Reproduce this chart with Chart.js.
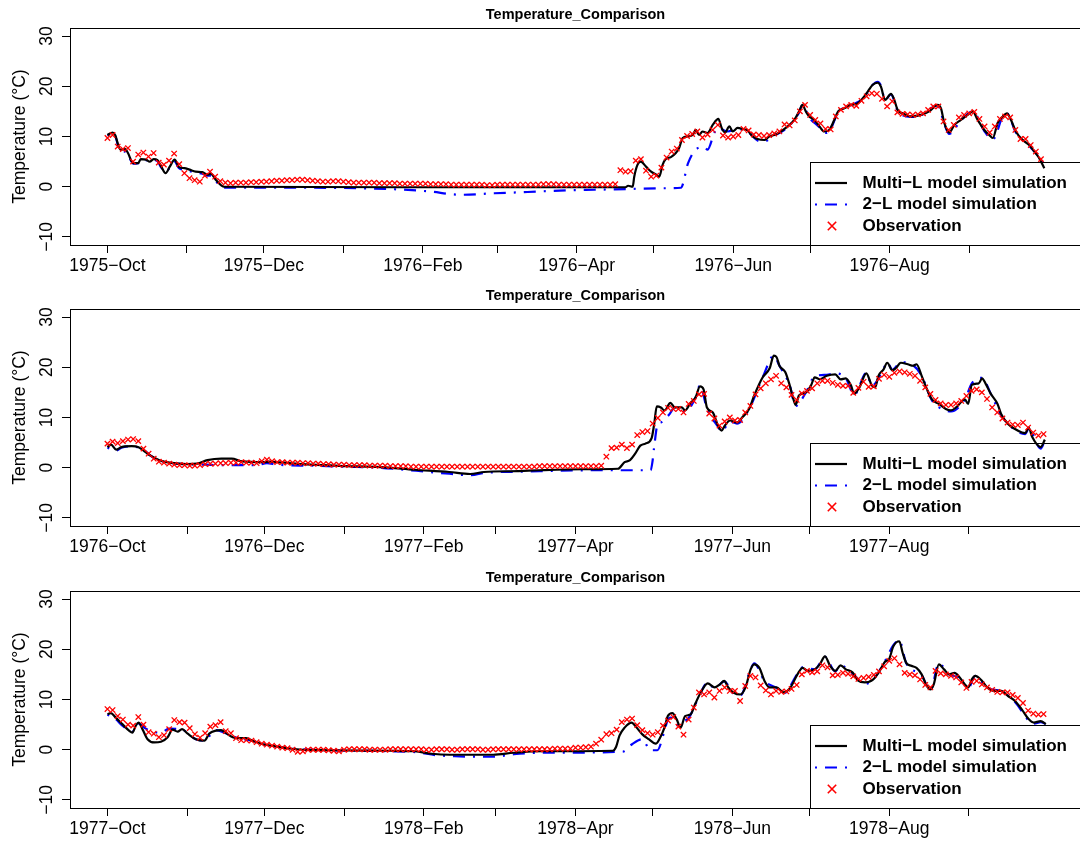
<!DOCTYPE html>
<html>
<head>
<meta charset="utf-8">
<script src="https://cdn.jsdelivr.net/npm/chart.js@4.4.0/dist/chart.umd.min.js"></script>
<style>
  html, body { margin: 0; padding: 0; background: #fff; overflow: hidden; }
  #page { position: relative; width: 1080px; height: 841px; overflow: hidden; background: #fff; }
  .panel { position: absolute; left: 0; width: 1100px; height: 281px; }
</style>
</head>
<body>
<div id="page">
  <div class="panel" style="top:0px"><canvas id="p1" width="1100" height="281"></canvas></div>
  <div class="panel" style="top:281px"><canvas id="p2" width="1100" height="281"></canvas></div>
  <div class="panel" style="top:563px"><canvas id="p3" width="1100" height="281"></canvas></div>
</div>
<script>
// ---- data -------------------------------------------------------------
// days counted from 1 October of each water year
const monthStartsLeap = [0, 31, 61, 92, 123, 152, 183, 213, 244, 274, 305, 336];
const monthStarts = [0, 31, 61, 92, 123, 151, 182, 212, 243, 273, 304, 335];

const tickLabels1 = ['1975−Oct', '', '1975−Dec', '', '1976−Feb', '', '1976−Apr', '', '1976−Jun', '', '1976−Aug', ''];
const tickLabels2 = ['1976−Oct', '', '1976−Dec', '', '1977−Feb', '', '1977−Apr', '', '1977−Jun', '', '1977−Aug', ''];
const tickLabels3 = ['1977−Oct', '', '1977−Dec', '', '1978−Feb', '', '1978−Apr', '', '1978−Jun', '', '1978−Aug', ''];

const yTicks = [-10, 0, 10, 20, 30];
const yTickLabels = ['−10', '0', '10', '20', '30'];
const yLimits = [-10, 30];

const daySpan1 = [0, 365];
const daySpan2 = [0, 364];
const daySpan3 = [0, 364];

const seriesNames = ['Multi−L model simulation', '2−L model simulation', 'Observation'];

// observations, one value every 2 days
const obsStep = 2;
const obs1 = [
  9.7, 10.3, 8.0, 7.5, 7.7, 5.0, 6.4, 6.8, 6.0, 6.7,
  4.8, 4.4, 5.2, 6.6, 4.5, 2.7, 1.7, 1.3, 1.0, 2.2,
  3.0, 2.0, 1.1, 0.8, 0.7, 0.8, 0.8, 0.8, 0.9, 0.9,
  1.0, 1.0, 1.1, 1.2, 1.2, 1.3, 1.3, 1.4, 1.4, 1.3,
  1.2, 1.1, 1.0, 1.0, 1.1, 1.1, 1.0, 0.9, 0.8, 0.8,
  0.8, 0.8, 0.8, 0.7, 0.7, 0.7, 0.7, 0.6, 0.6, 0.6,
  0.6, 0.6, 0.6, 0.5, 0.5, 0.5, 0.5, 0.4, 0.4, 0.4,
  0.4, 0.4, 0.4, 0.4, 0.3, 0.3, 0.4, 0.4, 0.4, 0.4,
  0.4, 0.4, 0.4, 0.4, 0.4, 0.5, 0.5, 0.5, 0.4, 0.4,
  0.4, 0.4, 0.4, 0.4, 0.4, 0.4, 0.4, 0.4, 0.4, 0.5,
  3.3, 3.0, 3.1, 5.2, 5.5, 3.2, 2.0, 2.2, 3.8, 5.8,
  7.0, 7.6, 9.3, 10.1, 10.5, 11.0, 9.8, 10.4, 11.3, 12.3,
  10.2, 9.8, 10.0, 10.3, 11.5, 11.2, 10.4, 10.3, 10.1, 10.3,
  10.6, 11.0, 12.4, 12.2, 13.2, 15.0, 16.3, 14.3, 13.3, 12.6,
  11.5, 11.4, 14.0, 15.3, 16.0, 16.3, 16.1, 17.1, 18.0, 18.6,
  18.5, 17.5, 16.0, 17.0, 14.8, 14.5, 14.4, 14.3, 14.4, 14.6,
  15.3, 16.0, 16.0, 13.0, 11.3, 12.3, 13.8, 14.3, 14.6, 14.9,
  13.5, 12.0, 10.8, 12.0, 13.5, 14.0, 13.8, 11.3, 9.5, 9.5,
  8.3, 7.0, 5.5
];
const obs2 = [
  4.8, 5.2, 4.9, 5.3, 5.6, 5.7, 5.3, 3.8, 2.8, 1.8,
  1.2, 1.0, 0.8, 0.6, 0.5, 0.5, 0.4, 0.4, 0.5, 0.7,
  0.8, 0.8, 0.9, 0.9, 1.0, 1.0, 1.1, 1.0, 1.0, 0.9,
  1.3, 1.6, 1.3, 1.1, 1.1, 1.0, 1.0, 1.0, 0.9, 0.9,
  0.8, 0.8, 0.7, 0.7, 0.6, 0.6, 0.6, 0.5, 0.5, 0.5,
  0.5, 0.4, 0.4, 0.4, 0.4, 0.3, 0.3, 0.3, 0.3, 0.2,
  0.2, 0.2, 0.2, 0.2, 0.2, 0.2, 0.2, 0.2, 0.2, 0.2,
  0.2, 0.2, 0.2, 0.2, 0.2, 0.2, 0.2, 0.2, 0.2, 0.2,
  0.2, 0.2, 0.2, 0.2, 0.3, 0.3, 0.3, 0.3, 0.3, 0.3,
  0.3, 0.3, 0.3, 0.3, 0.3, 0.3, 0.4, 2.2, 3.9, 4.0,
  4.6, 3.9, 4.6, 6.5, 7.1, 7.3, 8.8, 9.9, 11.0, 11.9,
  11.7, 11.7, 11.0, 12.7, 13.3, 14.6, 14.7, 10.8, 9.8, 8.4,
  9.2, 10.0, 9.4, 9.5, 11.0, 12.3, 14.6, 15.8, 16.8, 17.6,
  18.3, 16.8, 16.0, 14.5, 13.5, 14.8, 15.3, 15.8, 16.8, 17.3,
  17.3, 16.9, 16.5, 16.3, 16.3, 14.9, 15.9, 17.1, 16.1, 16.2,
  17.7, 18.5, 18.1, 18.9, 19.2, 19.0, 18.7, 18.3, 17.3, 16.0,
  14.7, 13.5, 12.8, 12.5, 12.5, 12.8, 13.3, 14.3, 15.3, 15.6,
  15.0, 13.7, 12.0, 11.0, 9.8, 9.0, 8.6, 8.5, 9.0, 8.0,
  7.0, 6.4, 6.7
];
const obs3 = [
  8.1, 7.9, 6.7, 6.0, 5.0, 4.8, 6.5, 5.0, 3.5, 3.2,
  2.5, 2.9, 4.1, 5.9, 5.5, 5.4, 4.3, 3.1, 2.4, 3.3,
  4.6, 4.9, 5.5, 3.7, 3.3, 2.3, 1.9, 1.9, 1.8, 1.5,
  1.2, 1.0, 0.8, 0.6, 0.4, 0.3, 0.0, -0.4, -0.3, 0.0,
  0.0, 0.0, 0.0, -0.1, -0.2, -0.3, 0.0, 0.1, 0.1, 0.1,
  0.1, 0.0, 0.0, 0.0, 0.0, 0.1, 0.1, 0.1, 0.1, 0.1,
  0.1, 0.1, 0.0, 0.0, 0.1, 0.1, 0.1, 0.0, 0.0, 0.1,
  0.1, 0.1, 0.1, 0.0, 0.0, 0.1, 0.1, 0.1, 0.1, 0.1,
  0.1, 0.1, 0.1, 0.1, 0.1, 0.1, 0.1, 0.2, 0.2, 0.2,
  0.2, 0.4, 0.4, 0.5, 0.6, 1.2, 2.0, 3.1, 3.3, 4.0,
  5.5, 6.0, 6.2, 4.9, 3.9, 3.3, 3.0, 3.5, 4.8, 5.8,
  6.5, 4.6, 3.0, 6.0, 8.4, 11.4, 11.0, 11.4, 10.4, 11.7,
  12.4, 11.7, 11.7, 9.7, 12.7, 14.7, 14.4, 12.8, 11.8, 11.0,
  11.7, 11.5, 11.6, 12.1, 12.9, 15.0, 15.7, 15.4, 15.6, 16.8,
  16.4, 14.8, 14.9, 15.3, 15.1, 14.6, 14.1, 14.3, 14.5, 14.9,
  15.6, 16.6, 17.7, 18.2, 17.0, 15.3, 15.0, 14.8, 14.0, 12.9,
  12.4, 15.7, 15.2, 15.0, 14.7, 14.4, 13.4, 12.3, 13.5, 13.7,
  13.0, 12.4, 11.9, 11.5, 11.4, 11.4, 10.9, 10.3, 9.3, 7.8,
  7.2, 7.0, 7.1
];

// model runs as [day, temperature] pairs
const multiL1 = [[0,10.3],[2,10.8],[3,10.3],[5,7.4],[7,7.5],[8,6.7],[10,4.7],[12,4.7],[13,5.5],[15,5.4],[16.5,5.0],[18,5.5],[19.5,5.3],[21,4.0],[22.7,2.7],[24.3,4.0],[26.2,5.4],[27.9,3.9],[30,3.7],[32,3.4],[34.4,3.0],[37,2.9],[39,2.4],[40.3,2.6],[42.2,1.4],[45.5,0.0],[120,-0.1],[202,-0.1],[203,0.2],[204.8,0.0],[205.4,2.0],[206.7,4.4],[208,5.0],[210,4.0],[212,3.0],[214,2.4],[215.1,2.0],[216.5,4.4],[217.7,5.5],[219.7,5.9],[221.6,6.7],[222.9,7.7],[224.3,9.7],[226.2,10.0],[228.2,10.3],[229.4,11.3],[230.7,10.3],[232,11.0],[234,10.7],[236,12.3],[238.2,13.5],[239.5,11.7],[240.8,10.8],[242.5,12.0],[243.8,11.0],[245.7,11.7],[247.7,11.5],[249.6,11.2],[251.6,10.0],[253.5,9.5],[256.1,9.3],[258,10.0],[260,10.3],[262.6,11.0],[265.2,12.0],[267.8,13.3],[269.7,15.0],[271,16.3],[272.3,15.0],[273.6,14.0],[275.6,13.3],[277.5,12.1],[279.5,11.0],[281.4,11.3],[283.4,13.3],[284.9,15.0],[287.3,15.6],[289.9,16.3],[292.5,16.6],[294.5,17.6],[296.4,18.9],[298.4,20.3],[300.3,20.7],[301.6,19.9],[303.2,17.3],[305.5,18.5],[306.6,17.6],[308.1,15.3],[310.1,14.6],[313.3,14.0],[317.2,14.3],[320.4,15.0],[323.7,16.3],[325,15.6],[326.3,12.7],[328.2,10.8],[330.2,12.3],[332.8,13.3],[335.4,14.3],[337.4,15.0],[339.3,13.3],[341.9,11.3],[343.8,10.3],[345.2,9.7],[347.1,12.7],[349.1,14.0],[350.7,14.6],[352.3,13.3],[354.2,11.0],[356.9,9.3],[359.4,8.3],[361.4,7.0],[363.3,5.7],[365.3,3.7]];
const twoL1 = [[0,10.2],[2,10.7],[3,10.2],[5,7.0],[7,7.0],[8,6.4],[10,4.6],[12,4.7],[13,5.3],[15,5.3],[16.5,5.0],[18,5.3],[19.5,5.1],[21,3.8],[22.7,2.9],[24.3,3.8],[26.2,5.0],[27.9,3.7],[30,3.4],[32,3.1],[34.4,2.8],[37,2.6],[39,2.2],[40.3,2.2],[42.2,1.1],[45.5,-0.2],[80,-0.2],[99,-0.3],[112,-0.5],[124.8,-0.9],[137.8,-1.6],[150.8,-1.3],[163.8,-1.05],[179.4,-0.7],[189.8,-0.6],[202.8,-0.45],[215.8,-0.3],[223.6,-0.2],[226.4,4.7],[229.4,7.4],[232.7,7.9],[234,7.4],[236.6,10.7],[237.9,11.7],[241.8,11.0],[245.7,11.5],[249.6,11.0],[253.5,9.2],[256.1,9.0],[260,10.2],[265.2,11.8],[269.7,14.8],[271,16.3],[273.6,13.8],[277.5,11.9],[279.5,10.7],[281.4,11.0],[284.9,14.8],[289.9,16.2],[294.5,17.5],[298.4,20.3],[300.3,20.9],[301.6,20.1],[303.2,17.3],[305.5,18.4],[308.1,15.2],[313.3,13.9],[317.2,14.2],[323.7,16.2],[326.3,12.5],[328.2,10.5],[332.8,13.2],[337.4,15.0],[341.9,11.1],[345.2,9.4],[349.1,14.0],[350.7,14.6],[354.2,10.8],[359.4,8.1],[363.3,5.9],[365.3,4.3]];

const multiL2 = [[0,4.1],[1.4,4.6],[3.4,3.6],[5.4,4.1],[9.4,4.3],[12.1,4.1],[14.8,3.1],[16.8,2.4],[20.2,1.5],[24.2,1.0],[30.9,0.7],[34.9,0.8],[38.9,1.5],[44.3,1.8],[48.3,1.8],[52.4,1.25],[60.4,1.1],[63.1,1.2],[65.8,1.1],[79.2,0.6],[92.7,0.33],[106.1,0.13],[119.5,-0.4],[132.9,-0.85],[141,-1.25],[146.4,-0.85],[159.8,-0.66],[167.8,-0.5],[185,-0.3],[198.5,-0.2],[201.1,1.1],[203.2,1.5],[205.2,2.8],[207.2,4.4],[209.2,4.8],[211.6,5.9],[212.6,8.7],[213.6,12.2],[215.2,12.0],[216.6,11.4],[218.9,12.9],[220.6,12.0],[223.3,12.0],[224.6,11.4],[226.7,12.9],[228.7,14.0],[230.4,16.2],[231.8,15.6],[233.1,12.0],[235.4,11.0],[237.4,8.4],[238.8,7.4],[240.1,8.4],[242.1,9.4],[244.8,9.0],[246.8,10.0],[249.5,11.7],[251.5,14.4],[254.8,18.0],[257.5,19.8],[259.1,22.3],[260.2,22.0],[261.3,20.3],[263.6,19.0],[265.3,16.4],[266.7,13.7],[267.6,12.5],[268.9,14.4],[271.6,15.0],[273.6,16.4],[275,18.0],[277,17.6],[279.7,18.3],[283,18.6],[285.1,17.6],[287.1,17.8],[289.1,16.4],[290.4,14.7],[292.4,16.0],[295.1,18.8],[297.2,16.4],[298.5,16.0],[299.8,18.3],[301.8,19.6],[303.2,20.9],[305.2,19.4],[306.5,19.8],[308.5,20.9],[311.2,20.6],[313.3,20.3],[314.6,20.6],[316.6,18.3],[318.6,15.7],[320.6,13.6],[323.3,12.7],[326,11.7],[328,11.4],[330,12.0],[333.4,13.6],[334.7,12.7],[336.1,16.5],[338.8,16.8],[340.1,17.8],[341.4,16.8],[343.5,14.7],[346.1,12.7],[347.5,10.7],[350.2,8.7],[352.9,7.7],[355.6,7.0],[356.9,6.9],[358.2,8.0],[359.6,6.1],[362.9,4.1],[364.5,5.6]];
const twoL2 = [[0,4.0],[3.4,3.4],[5.4,4.0],[10,4.3],[12,4.0],[15,3.2],[17,2.3],[20,1.5],[24,1.0],[31,0.7],[38,0.6],[45,0.5],[52,0.5],[58,0.5],[62,0.9],[66,0.6],[80,0.4],[93,0.2],[106,0.0],[120,-0.6],[133,-1.2],[141,-1.5],[147,-1.0],[160,-0.8],[168,-0.7],[190,-0.5],[211.2,-0.5],[211.9,1.1],[212.6,4.2],[213.9,8.6],[215.2,9.0],[217.3,10.0],[218.6,10.7],[220.6,12.0],[224.6,11.2],[228.7,14.0],[230.4,16.4],[233.1,11.8],[237.4,8.2],[238.8,7.2],[242.1,9.2],[244.8,8.8],[249.5,11.7],[254.8,18.0],[259.1,22.3],[261.3,20.3],[265.3,16.4],[267.6,12.3],[271.6,15.0],[275,18.2],[279.7,18.5],[283,18.8],[287.1,17.8],[290.4,14.5],[295.1,18.9],[297.2,16.3],[301.8,19.7],[303.2,21.0],[305.2,19.5],[308.5,21.0],[313.3,20.4],[316.6,18.3],[320.6,13.4],[326,11.4],[328,11.2],[333.4,13.6],[336.1,16.8],[340.1,17.9],[343.5,14.7],[347.5,10.5],[352.9,7.5],[356.9,6.7],[358.2,7.8],[362.9,3.8],[364.5,5.4]];

const multiL3 = [[0,7.1],[1.3,7.3],[3.2,6.4],[5.8,5.1],[8.4,3.8],[9.7,3.4],[11,4.75],[12.1,5.4],[13.6,4.1],[15.6,2.1],[18.2,1.45],[20.8,1.6],[23.4,2.5],[25.3,4.0],[27.3,3.6],[29,4.1],[31.2,3.2],[34.4,2.1],[37.7,1.8],[39.6,3.2],[42.2,3.8],[44.2,3.9],[46.1,3.3],[48.7,2.5],[50.7,2.3],[53.9,2.3],[56.5,1.8],[60.4,1.1],[65.6,0.65],[70.8,0.25],[76,0.0],[86.4,-0.1],[110,-0.2],[119.5,-0.3],[126,-0.8],[133,-1.0],[150,-1.0],[158,-0.6],[169,-0.3],[196.5,-0.2],[197.8,0.6],[199.1,2.8],[201.1,4.4],[203.8,5.4],[205.8,4.4],[207.9,3.1],[210.5,2.1],[213.2,1.2],[214.6,2.1],[216.6,4.4],[217.9,6.7],[219.7,7.3],[221.3,6.1],[222.9,4.4],[224.6,6.7],[226.7,7.0],[228.7,9.3],[230.7,11.4],[233.4,13.2],[236.1,12.4],[238.1,13.0],[239.8,13.7],[241.4,12.4],[243.4,11.4],[246.1,11.0],[248.1,12.4],[250.1,16.0],[251.5,17.0],[253.5,16.3],[255.5,13.7],[257.5,12.4],[260.2,12.4],[262.9,11.4],[265.6,12.4],[268.3,15.0],[270.3,16.3],[272.3,15.7],[275,16.0],[277,17.0],[279,18.6],[281,16.7],[283,15.7],[285.1,16.8],[287.1,16.0],[289.7,15.4],[291.8,13.8],[294.5,13.4],[297.8,14.0],[299.8,15.3],[302.5,17.6],[303.9,18.0],[305.6,20.6],[307.9,21.6],[309.2,19.3],[310.6,17.3],[312.6,16.7],[314.6,16.3],[316.6,15.0],[318.6,12.7],[320,12.0],[321.3,13.0],[323.3,17.0],[325.3,16.0],[327.3,15.0],[329.4,15.3],[331.4,14.4],[333.4,13.0],[334.7,12.4],[336.1,14.0],[337.4,14.7],[340.1,13.7],[342.1,12.4],[344.8,11.7],[347.5,11.7],[350.2,10.7],[352.9,9.7],[355.6,8.0],[358.2,6.1],[360.2,5.4],[362.9,5.7],[364.9,5.1]];
const twoL3 = [[0,7.0],[3.2,6.1],[5.8,4.8],[9.7,3.6],[12.1,5.2],[14.9,4.2],[17.5,3.6],[20.8,3.4],[24,4.2],[29,4.0],[34.4,2.1],[38.3,1.8],[40,3.0],[42,3.9],[46,3.3],[50.7,2.3],[56.5,1.8],[60.4,1.1],[65.6,0.65],[70.8,0.3],[76,0.1],[86,-0.1],[110,-0.3],[120,-0.5],[128,-1.1],[135,-1.3],[150,-1.4],[158,-0.9],[169,-0.6],[200.3,-0.4],[204,1.1],[207.9,2.1],[211.2,-0.1],[213.8,-0.1],[216.4,3.4],[217.7,5.7],[218.9,6.4],[221.5,4.9],[223.5,5.5],[226.1,6.4],[228.1,8.4],[230.7,11.4],[233.4,13.4],[236.1,12.2],[239.8,13.6],[243.4,11.2],[246.1,10.8],[250.1,16.0],[251.5,17.2],[255.5,13.7],[260.2,12.3],[262.9,11.2],[268.3,15.1],[270.3,16.4],[275,16.0],[279,18.5],[283,15.6],[285.1,16.8],[289.7,15.2],[294.5,13.1],[297.8,14.0],[302.5,17.8],[305.6,20.8],[307.9,21.8],[310.6,17.2],[316.6,14.8],[320,11.8],[323.3,17.2],[327.3,15.0],[331.4,14.3],[334.7,12.2],[337.4,14.7],[342.1,12.3],[347.5,11.6],[352.9,9.5],[358.2,5.8],[360.2,5.2],[362.9,5.5],[364.9,5.1]];

// ---- drawing ----------------------------------------------------------
const FONT = '"Liberation Sans", Arial, Helvetica, sans-serif';
const LABEL_SIZE = 17.5;
const BLUE_DASH = [2, 8, 12, 8];

// frame, titles, rotated y labels and the R-style legend
const decoPlugin = {
  id: 'deco',
  afterDraw(chart) {
    const { ctx, chartArea: a } = chart;
    const yScale = chart.scales.y;
    ctx.save();

    // plot box
    ctx.strokeStyle = '#000';
    ctx.lineWidth = 1;
    ctx.strokeRect(a.left + 0.5, a.top + 0.5, a.right - a.left, a.bottom - a.top);

    // main title
    ctx.fillStyle = '#000';
    ctx.font = 'bold 14.5px ' + FONT;
    ctx.textAlign = 'center';
    ctx.textBaseline = 'middle';
    ctx.fillText('Temperature_Comparison', (a.left + a.right) / 2, 15);

    // y tick labels, drawn vertically like R does
    ctx.font = LABEL_SIZE + 'px ' + FONT;
    ctx.textBaseline = 'alphabetic';
    yTicks.forEach((v, i) => {
      ctx.save();
      ctx.translate(51.5, yScale.getPixelForValue(v));
      ctx.rotate(-Math.PI / 2);
      ctx.fillText(yTickLabels[i], 0, 0);
      ctx.restore();
    });

    // y axis title
    ctx.save();
    ctx.translate(25, (a.top + a.bottom) / 2);
    ctx.rotate(-Math.PI / 2);
    ctx.fillText('Temperature (°C)', 0, 0);
    ctx.restore();

    // legend (no background, only a border)
    const lx = 810, ly = a.bottom - 83;
    ctx.strokeRect(lx + 0.5, ly + 0.5, a.right - lx + 10, a.bottom - ly);
    const rowY = [ly + 21, ly + 42.5, ly + 64];

    ctx.lineWidth = 2.2;
    ctx.strokeStyle = '#000';
    ctx.beginPath();
    ctx.moveTo(815, rowY[0]);
    ctx.lineTo(847, rowY[0]);
    ctx.stroke();

    ctx.strokeStyle = '#0000ff';
    ctx.setLineDash(BLUE_DASH);
    ctx.beginPath();
    ctx.moveTo(815, rowY[1]);
    ctx.lineTo(847, rowY[1]);
    ctx.stroke();
    ctx.setLineDash([]);

    ctx.strokeStyle = '#ff0000';
    ctx.lineWidth = 1.6;
    const cx = 832, cy = rowY[2], h = 4.2;
    ctx.beginPath();
    ctx.moveTo(cx - h, cy - h); ctx.lineTo(cx + h, cy + h);
    ctx.moveTo(cx - h, cy + h); ctx.lineTo(cx + h, cy - h);
    ctx.stroke();

    ctx.fillStyle = '#000';
    ctx.font = 'bold 17px ' + FONT;
    ctx.textAlign = 'left';
    ctx.textBaseline = 'middle';
    seriesNames.forEach((name, i) => ctx.fillText(name, 862.5, rowY[i]));

    ctx.restore();
  }
};

function toPoints(pairs) {
  return pairs.map(p => ({ x: p[0], y: p[1] }));
}

function createPanel(canvasId, obs, multiL, twoL, ticks, tickLabels, daySpan) {
  const spanPad = (daySpan[1] - daySpan[0]) * 0.04;
  const yPad = (yLimits[1] - yLimits[0]) * 0.04;

  const ctx = document.getElementById(canvasId);
  return new Chart(ctx, {
    type: 'scatter',
    data: {
      datasets: [
        {
          label: seriesNames[2],
          data: obs.map((v, i) => ({ x: i * obsStep, y: v })),
          pointStyle: 'crossRot',
          pointRadius: 3.8,
          pointBorderWidth: 1.3,
          pointBorderColor: '#ff0000',
          pointBackgroundColor: '#ff0000',
          showLine: false
        },
        {
          label: seriesNames[0],
          data: toPoints(multiL),
          showLine: true,
          borderColor: '#000000',
          borderWidth: 2.2,
          pointRadius: 0,
          cubicInterpolationMode: 'monotone'
        },
        {
          label: seriesNames[1],
          data: toPoints(twoL),
          showLine: true,
          borderColor: '#0000ff',
          borderWidth: 2.2,
          borderDash: BLUE_DASH,
          pointRadius: 0,
          cubicInterpolationMode: 'monotone'
        }
      ]
    },
    options: {
      responsive: false,
      animation: false,
      devicePixelRatio: 1,
      layout: { padding: { top: 28, right: 19, left: 0, bottom: 0 } },
      scales: {
        x: {
          type: 'linear',
          min: daySpan[0] - spanPad,
          max: daySpan[1] + spanPad,
          afterBuildTicks: s => { s.ticks = ticks.map(v => ({ value: v })); },
          afterFit: s => { s.height = 36; },
          ticks: {
            callback: (v, i) => tickLabels[i],
            autoSkip: false,
            maxRotation: 0,
            padding: 3,
            color: '#000',
            font: { family: FONT, size: LABEL_SIZE }
          },
          grid: { drawOnChartArea: false, tickLength: 8, color: '#000', lineWidth: 1 },
          border: { display: false }
        },
        y: {
          type: 'linear',
          min: yLimits[0] - yPad,
          max: yLimits[1] + yPad,
          afterBuildTicks: s => { s.ticks = yTicks.map(v => ({ value: v })); },
          afterFit: s => { s.width = 70; },
          ticks: { display: false },
          grid: { drawOnChartArea: false, tickLength: 8, color: '#000', lineWidth: 1 },
          border: { display: false }
        }
      },
      plugins: {
        legend: { display: false },
        tooltip: { enabled: false },
        title: { display: false }
      }
    },
    plugins: [decoPlugin]
  });
}

createPanel('p1', obs1, multiL1, twoL1, monthStartsLeap, tickLabels1, daySpan1);
createPanel('p2', obs2, multiL2, twoL2, monthStarts, tickLabels2, daySpan2);
createPanel('p3', obs3, multiL3, twoL3, monthStarts, tickLabels3, daySpan3);
</script>
</body>
</html>
